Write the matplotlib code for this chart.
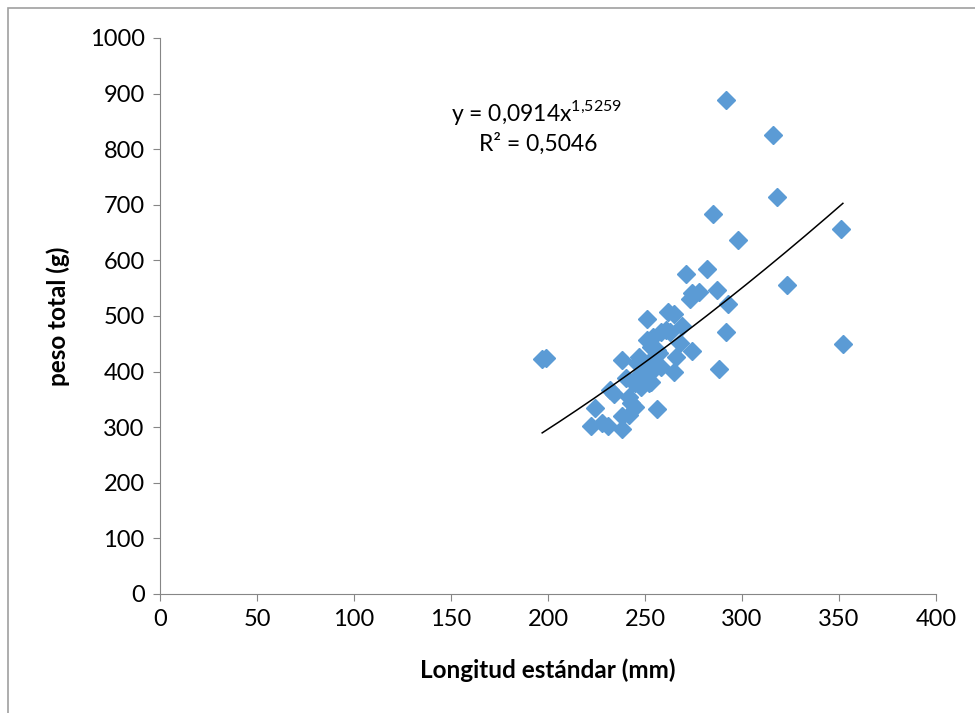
import numpy as np
import matplotlib
matplotlib.use("Agg")
import matplotlib.pyplot as plt
from matplotlib.patches import Rectangle

# longitud estandar (mm) y peso total (g)
longitud = [197, 199, 292, 316, 318, 285, 298, 351, 352, 323,
            271, 282, 274, 278, 273, 287, 293, 292, 288, 262,
            265, 251, 269, 268, 274, 266, 265, 256, 238, 240,
            232, 234, 224, 222, 228, 231, 238, 238, 242, 242,
            243, 245, 261, 258, 254, 251, 253, 256, 257, 247,
            246, 249, 246, 253, 254, 251, 244, 248, 253, 258,
            245, 252, 250, 255, 248, 263]
peso = [422, 424, 888, 826, 714, 683, 637, 656, 450, 556,
        576, 584, 541, 544, 530, 546, 522, 471, 404, 508,
        504, 494, 482, 452, 437, 426, 400, 332, 420, 389,
        367, 359, 335, 303, 307, 302, 296, 320, 322, 355,
        343, 337, 475, 472, 463, 457, 445, 439, 433, 427,
        415, 409, 391, 421, 403, 385, 382, 373, 382, 409,
        379, 379, 400, 415, 420, 471]

# ajuste potencial mostrado en el grafico
coef_a = 0.0914
coef_b = 1.5259
r2_text = "R² = 0,5046"

plt.rcParams['font.family'] = ['Lato', 'DejaVu Sans']
plt.rcParams['mathtext.fontset'] = 'custom'
plt.rcParams['mathtext.rm'] = 'Lato'

fig = plt.figure(figsize=(9.75, 7.13), dpi=100)
ax = fig.add_axes([160 / 975, 1 - 594 / 713, 776 / 975, 556 / 713])

# marco exterior del grafico
fig.patches.append(Rectangle((8 / 975, -0.5), 2, 1.5 - 8 / 713, transform=fig.transFigure,
                             fill=False, edgecolor='#a0a0a0', linewidth=1.2))

ax.plot(longitud, peso, linestyle='none', marker='D', markersize=9.5,
        color='#5b9bd5', markeredgecolor='#5b9bd5', zorder=3)

xs = np.linspace(min(longitud), max(longitud), 200)
ax.plot(xs, coef_a * xs ** coef_b, color='black', linewidth=1.1, zorder=4)

ax.text(194, 866, r"y = 0,0914x$^{\mathregular{1{,}5259}}$", fontsize=16.5,
        ha='center', va='center')
ax.text(195, 809, r2_text, fontsize=16.5, ha='center', va='center')

ax.set_xlim(0, 400)
ax.set_ylim(0, 1000)
ax.set_xticks(np.arange(0, 401, 50))
ax.set_yticks(np.arange(0, 1001, 100))
for side in ['top', 'right']:
    ax.spines[side].set_visible(False)
for side in ['left', 'bottom']:
    ax.spines[side].set_color('#868686')
ax.tick_params(direction='out', length=5, color='#868686', labelsize=17, pad=6)

ax.set_xlabel("Longitud estándar (mm)", fontsize=17.5, fontweight='bold', labelpad=20)
ax.set_ylabel("peso total (g)", fontsize=17.5, fontweight='bold', labelpad=14)

fig.savefig("out.png", dpi=100)
